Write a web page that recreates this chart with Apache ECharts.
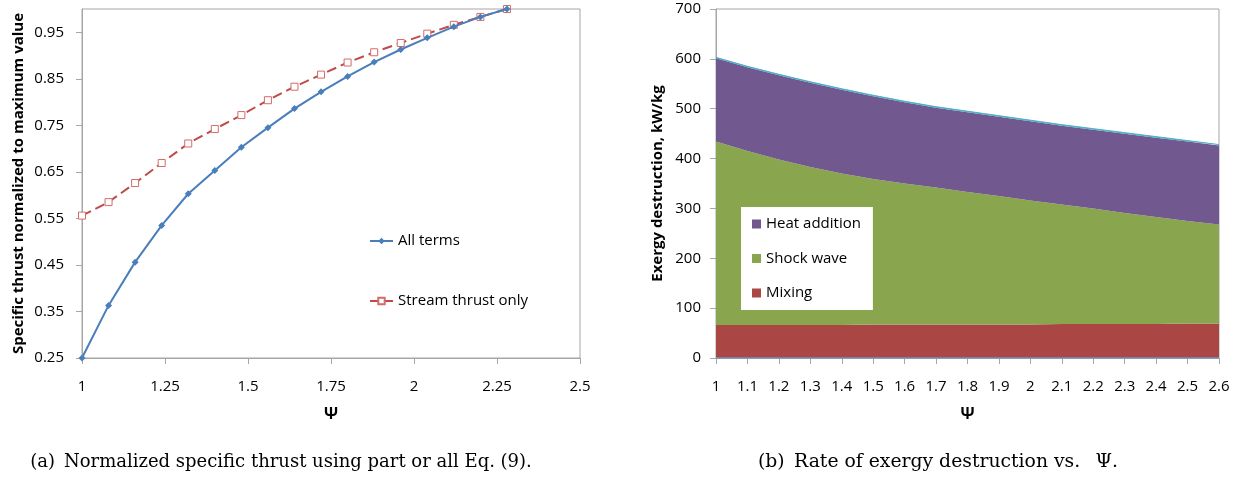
<!DOCTYPE html>
<html>
<head>
<meta charset="utf-8">
<script src="https://cdn.jsdelivr.net/npm/echarts@6/dist/echarts.min.js"></script>
<style>
html,body{margin:0;padding:0;background:#fff;}
#chart{width:1240px;height:478px;}
</style>
</head>
<body>
<div id="chart"></div>
<script>
// ---- Chart (a): normalized specific thrust ----
var psiA = [1, 1.08, 1.16, 1.24, 1.32, 1.40, 1.48, 1.56, 1.64, 1.72, 1.80, 1.88, 1.96, 2.04, 2.12, 2.20, 2.28];
var allTerms = [0.25, 0.363, 0.456, 0.535, 0.603, 0.653, 0.703, 0.745, 0.786, 0.822, 0.855, 0.886, 0.913, 0.938, 0.962, 0.983, 1.0];
var streamOnly = [0.556, 0.585, 0.626, 0.669, 0.711, 0.742, 0.772, 0.804, 0.833, 0.859, 0.885, 0.907, 0.927, 0.947, 0.966, 0.983, 1.0];

// ---- Chart (b): exergy destruction (stacked) ----
var psiB = ['1', '1.1', '1.2', '1.3', '1.4', '1.5', '1.6', '1.7', '1.8', '1.9', '2', '2.1', '2.2', '2.3', '2.4', '2.5', '2.6'];
var bottomTrace = [0, 0, 0, 0, 0, 0, 0, 0, 0, 0, 0, 0, 0, 0, 0, 0, 0];
var mixing = [66, 66, 66, 66, 66, 67, 67, 67, 67, 67, 67, 68, 68, 68, 68, 69, 69];
var shockWave = [368, 349, 332, 317, 304, 292, 283, 275, 266, 258, 249, 240, 232, 223, 215, 206, 199];
var heatAddition = [167, 168, 169, 169, 168, 166, 163, 160, 160, 159, 159, 158, 158, 159, 159, 159, 158];
var topTrace = [2, 2, 2, 2, 2, 2, 2, 2, 2, 2, 2, 2, 2, 2, 2, 2, 2];

var captionA = '(a)\u2002Normalized specific thrust using part or all Eq. (9).';
var captionB = '(b)\u2002Rate of exergy destruction vs.\u2002 \u03A8.';

function pairs(xs, ys) { return xs.map(function (x, i) { return [x, ys[i]]; }); }

var FONT = 'Open Sans';
var FS = 15;
var axisGray = '#a6a6a6';

var chart = echarts.init(document.getElementById('chart'), null, {renderer: 'canvas'});

function baseAxis(extra) {
  var a = {
    axisLine: {show: true, lineStyle: {color: axisGray, width: 1}},
    axisTick: {show: true, inside: false, length: 6, lineStyle: {color: axisGray}},
    splitLine: {show: false},
    axisLabel: {color: '#000', fontFamily: FONT, fontSize: FS},
    nameTextStyle: {color: '#000', fontFamily: FONT, fontWeight: 'bold'}
  };
  for (var k in extra) {
    if (typeof extra[k] === 'object' && a[k] && !Array.isArray(extra[k])) {
      for (var j in extra[k]) a[k][j] = extra[k][j];
    } else a[k] = extra[k];
  }
  return a;
}

function areaSeries(name, data, color, lineColor, lineWidth) {
  return {
    name: name, type: 'line', xAxisIndex: 1, yAxisIndex: 1, stack: 'exergy',
    data: data, symbol: 'none', color: color,
    lineStyle: {width: lineWidth, color: lineColor},
    areaStyle: {color: color, opacity: 1},
    silent: true
  };
}

var option = {
  animation: false,
  backgroundColor: '#fff',
  grid: [
    {left: 82, top: 9, width: 498, height: 349, show: true, borderColor: axisGray, borderWidth: 1, backgroundColor: 'transparent'},
    {left: 716, top: 9, width: 503, height: 349, show: true, borderColor: axisGray, borderWidth: 1, backgroundColor: 'transparent'}
  ],
  xAxis: [
    baseAxis({type: 'value', gridIndex: 0, min: 1, max: 2.5, interval: 0.25,
      axisLabel: {margin: 21},
      name: '\u03A8', nameLocation: 'middle', nameGap: 48,
      nameTextStyle: {fontSize: 16}}),
    baseAxis({type: 'category', gridIndex: 1, data: psiB, boundaryGap: false,
      axisTick: {alignWithLabel: true, interval: 0},
      axisLabel: {margin: 21, interval: 0},
      name: '\u03A8', nameLocation: 'middle', nameGap: 48,
      nameTextStyle: {fontSize: 16}})
  ],
  yAxis: [
    baseAxis({type: 'value', gridIndex: 0, min: 0.25, max: 1.0, interval: 0.1,
      axisLabel: {margin: 18, showMaxLabel: false},
      name: 'Specific thrust normalized to maximum value', nameLocation: 'middle', nameGap: 56,
      nameTextStyle: {fontSize: 15}}),
    baseAxis({type: 'value', gridIndex: 1, min: 0, max: 700, interval: 100,
      axisLabel: {margin: 15},
      name: 'Exergy destruction, kW/kg', nameLocation: 'middle', nameGap: 51,
      nameTextStyle: {fontSize: 15}})
  ],
  legend: [
    {
      data: ['All terms', 'Stream thrust only'],
      orient: 'vertical', left: 369, top: 232, padding: 0,
      itemWidth: 23, itemHeight: 8, itemGap: 42,
      textStyle: {color: '#000', fontFamily: FONT, fontSize: FS, lineHeight: 18},
      selectedMode: false
    },
    {
      data: ['Heat addition', 'Shock wave', 'Mixing'],
      orient: 'vertical', left: 741, top: 207, padding: [8, 12, 8, 11],
      backgroundColor: '#fff',
      icon: 'rect', itemWidth: 9, itemHeight: 9, itemGap: 16.5,
      textStyle: {color: '#000', fontFamily: FONT, fontSize: FS, lineHeight: 18},
      selectedMode: false
    }
  ],
  series: [
    {
      name: 'All terms', type: 'line', xAxisIndex: 0, yAxisIndex: 0,
      data: pairs(psiA, allTerms),
      color: '#4A7EBB',
      lineStyle: {width: 2, color: '#4A7EBB'},
      symbol: 'diamond', symbolSize: 7,
      itemStyle: {color: '#4A7EBB'},
      z: 3
    },
    {
      name: 'Stream thrust only', type: 'line', xAxisIndex: 0, yAxisIndex: 0,
      data: pairs(psiA, streamOnly),
      color: '#BE4B48',
      lineStyle: {width: 2, color: '#BE4B48', type: [10, 5]},
      symbol: 'rect', symbolSize: 7,
      itemStyle: {color: '#ffffff', borderColor: '#D46B68', borderWidth: 1},
      z: 2
    },
    {
      name: 'bottom', type: 'line', xAxisIndex: 1, yAxisIndex: 1, stack: 'exergy',
      data: bottomTrace, symbol: 'none', color: '#4F81BD',
      lineStyle: {width: 1.5, color: '#7393C3'}, silent: true, z: 4
    },
    areaSeries('Mixing', mixing, '#AA4643', '#AA4643', 0),
    areaSeries('Shock wave', shockWave, '#89A54E', '#89A54E', 0),
    areaSeries('Heat addition', heatAddition, '#71588F', '#71588F', 0),
    areaSeries('top', topTrace, '#4BACC6', '#4BACC6', 1)
  ],
  graphic: [
    {type: 'text', x: 281, y: 462, style: {text: captionA, fill: '#000', fontFamily: 'DejaVu Serif', fontSize: 18, align: 'center', verticalAlign: 'middle'}},
    {type: 'text', x: 938, y: 462, style: {text: captionB, fill: '#000', fontFamily: 'DejaVu Serif', fontSize: 18.8, align: 'center', verticalAlign: 'middle'}}
  ]
};

chart.setOption(option);
</script>
</body>
</html>
